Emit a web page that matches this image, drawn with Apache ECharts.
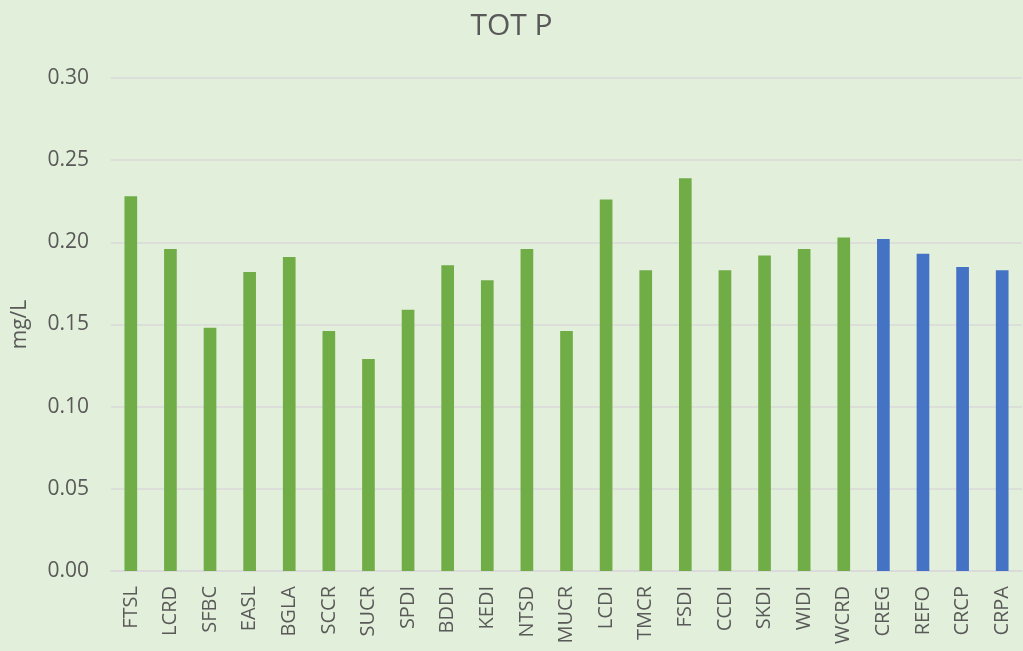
<html lang="en">
	<head>
		<meta charset="UTF-8" />
		<script src="https://cdn.jsdelivr.net/npm/echarts@6/dist/echarts.min.js"></script>
		<title>TOT P</title>
		<style>
			* {
				padding: 0;
				margin: 0;
			}
			body {
				background: #e2efda;
			}
		</style>
	</head>

	<body>
		<div id="main" style="width:1023px;height:651px"></div>
		<script>
			// sites along the x axis
			var sites = ["FTSL", "LCRD", "SFBC", "EASL", "BGLA", "SCCR", "SUCR", "SPDI", "BDDI", "KEDI", "NTSD", "MUCR",
				"LCDI", "TMCR", "FSDI", "CCDI", "SKDI", "WIDI", "WCRD", "CREG", "REFO", "CRCP", "CRPA"]
			// total phosphorus, mg/L
			var totP = [0.228, 0.196, 0.148, 0.182, 0.191, 0.146, 0.129, 0.159, 0.186, 0.177, 0.196, 0.146,
				0.226, 0.183, 0.239, 0.183, 0.192, 0.196, 0.203, 0.202, 0.193, 0.185, 0.183]
			// reference sites drawn in blue
			var refSites = ["CREG", "REFO", "CRCP", "CRPA"]
			var yTicks = [0, 0.05, 0.1, 0.15, 0.2, 0.25, 0.3]

			var font = "'Open Sans', sans-serif"
			var myChart = echarts.init(document.getElementById("main"))
			var option = {
				backgroundColor: "#e2efda",
				animation: false,
				title: {
					text: "TOT P",
					left: "center",
					top: 6,
					textStyle: { color: "#595959", fontSize: 30, fontWeight: "normal", fontFamily: font }
				},
				grid: {
					left: 111,
					right: 1,
					top: 78,
					bottom: 80,
					containLabel: false,
					outerBoundsMode: "none"
				},
				xAxis: {
					type: "category",
					data: sites,
					axisTick: { show: false },
					axisLine: { lineStyle: { color: "#d9d9d9", width: 1.5 } },
					axisLabel: {
						rotate: 90,
						interval: 0,
						margin: 15,
						color: "#595959",
						fontSize: 20,
						fontFamily: font
					}
				},
				yAxis: {
					type: "value",
					min: yTicks[0],
					max: yTicks[yTicks.length - 1],
					interval: 0.05,
					name: "mg/L",
					nameLocation: "middle",
					nameGap: 80,
					nameTextStyle: { color: "#595959", fontSize: 21, fontFamily: font },
					axisLine: { show: false },
					axisTick: { show: false },
					axisLabel: {
						margin: 22,
						color: "#595959",
						fontSize: 21,
						fontFamily: font,
						formatter: function(v) {
							return v.toFixed(2)
						}
					},
					splitLine: { lineStyle: { color: "#d9d9d9", width: 1.5 } }
				},
				series: [
					{
						type: "bar",
						barWidth: "32%",
						data: totP.map(function(v, i) {
							return {
								value: v,
								itemStyle: { color: refSites.indexOf(sites[i]) >= 0 ? "#4472c4" : "#70ad47" }
							}
						})
					}
				]
			}
			myChart.setOption(option)
		</script>
	</body>
</html>
